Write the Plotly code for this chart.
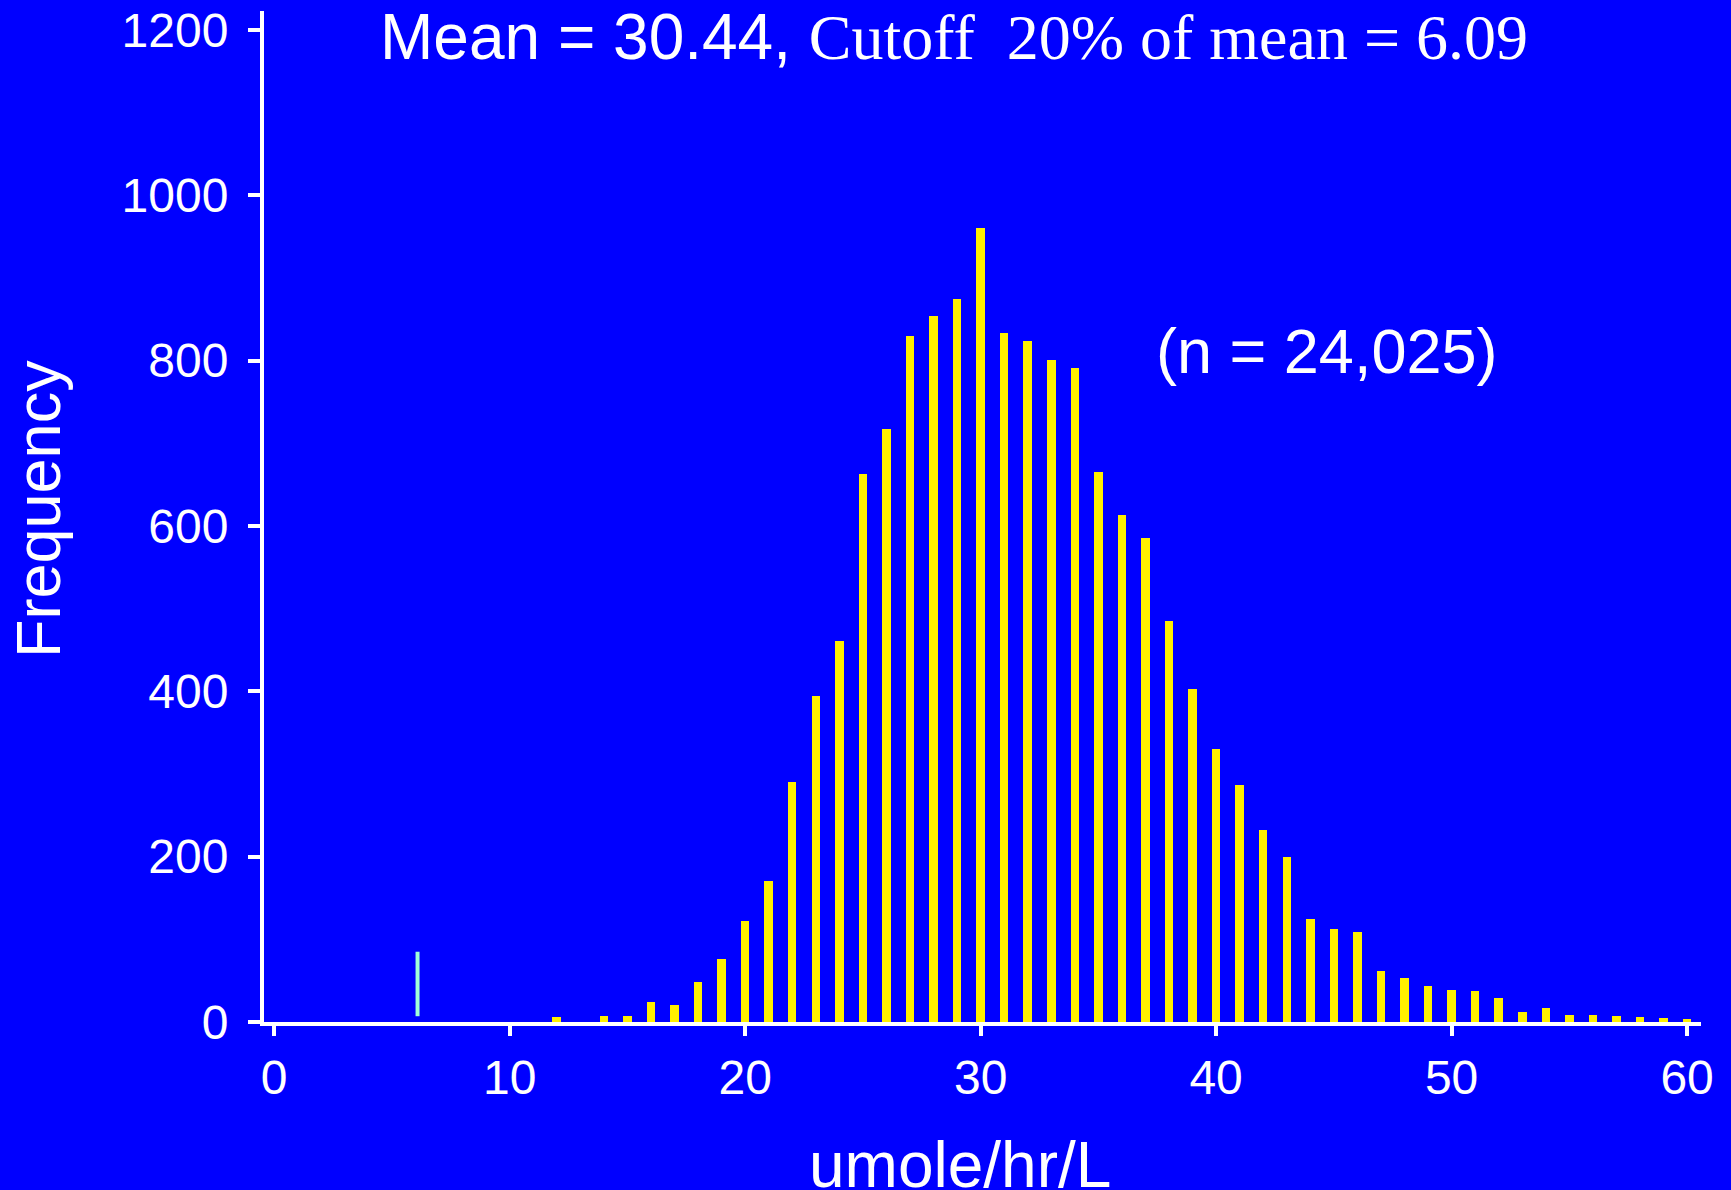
import plotly.graph_objects as go

# Histogram of enzyme activity (umole/hr/L), one bar per unit bin
bins = list(range(12, 61))
counts = [6, 0, 7, 7, 24, 21, 48, 76, 122, 170,
          290, 394, 461, 663, 717, 830, 854, 875, 961, 833,
          824, 801, 791, 665, 613, 585, 485, 403, 330, 287,
          232, 200, 125, 112, 109, 62, 53, 44, 39, 38,
          29, 12, 17, 9, 8, 7, 6, 5, 4]

mean_value = 30.44
cutoff_fraction = 0.20
cutoff_value = round(mean_value * cutoff_fraction, 2)
cutoff_span = [7, 85]          # vertical extent of the cutoff marker
n_samples = 24025

x_ticks = [0, 10, 20, 30, 40, 50, 60]
y_ticks = [0, 200, 400, 600, 800, 1000, 1200]

# Figure geometry (pixels)
FIG_W, FIG_H = 1731, 1190
M_L, M_R, M_T, M_B = 264, 30, 11, 168
PW = FIG_W - M_L - M_R
PH = FIG_H - M_T - M_B


def px_x(px):
    return (px - M_L) / PW


def px_y(py):
    return 1 - (py - M_T) / PH


SANS = "Liberation Sans, Arial, Helvetica, sans-serif"
SERIF = "Liberation Serif, Times New Roman, serif"
BG = "#0000FF"
WHITE = "#FFFFFF"

fig = go.Figure()

fig.add_trace(go.Bar(
    x=bins, y=counts, width=0.36,
    marker=dict(color="#FFF000", line=dict(width=0)),
    hoverinfo="skip", showlegend=False,
))

fig.add_trace(go.Scatter(
    x=[cutoff_value, cutoff_value], y=cutoff_span,
    mode="lines", line=dict(color="#A0FFD8", width=4),
    hoverinfo="skip", showlegend=False,
))

title_text = (
    f"Mean = {mean_value:.2f}, "
    f"<span style=\"font-family:{SERIF}\">Cutoff&nbsp; {int(cutoff_fraction * 100)}% "
    f"of mean = {cutoff_value:.2f}</span>"
)

annotations = [
    dict(text=title_text, x=px_x(954), y=px_y(37), xref="paper", yref="paper",
         xanchor="center", yanchor="middle", showarrow=False,
         font=dict(family=SANS, size=64, color=WHITE)),
    dict(text=f"(n = {n_samples:,})", x=px_x(1327), y=px_y(351),
         xref="paper", yref="paper", xanchor="center", yanchor="middle",
         showarrow=False, font=dict(family=SANS, size=63, color=WHITE)),
    dict(text="umole/hr/L", x=px_x(960), y=px_y(1165),
         xref="paper", yref="paper", xanchor="center", yanchor="middle",
         showarrow=False, font=dict(family=SANS, size=64, color=WHITE)),
    dict(text="Frequency", x=px_x(38), y=px_y(509), textangle=-90,
         xref="paper", yref="paper", xanchor="center", yanchor="middle",
         showarrow=False, font=dict(family=SANS, size=63, color=WHITE)),
]

axis_common = dict(
    showgrid=False, zeroline=False, showline=True, linecolor=WHITE, linewidth=4,
    ticks="outside", tickcolor=WHITE, tickwidth=4, automargin=False,
    tickfont=dict(family=SANS, size=48, color=WHITE),
)

fig.update_layout(
    width=FIG_W, height=FIG_H,
    margin=dict(l=M_L, r=M_R, t=M_T, b=M_B, pad=0, autoexpand=False),
    paper_bgcolor=BG, plot_bgcolor=BG,
    xaxis=dict(range=[-0.43, 60.59], tickvals=x_ticks, ticklen=10, **axis_common),
    yaxis=dict(range=[0, 1223], tickvals=y_ticks, ticklen=12,
               ticklabelstandoff=10, **axis_common),
    annotations=annotations,
    bargap=0,
)

fig.write_html("out.html", config={"displayModeBar": False})
